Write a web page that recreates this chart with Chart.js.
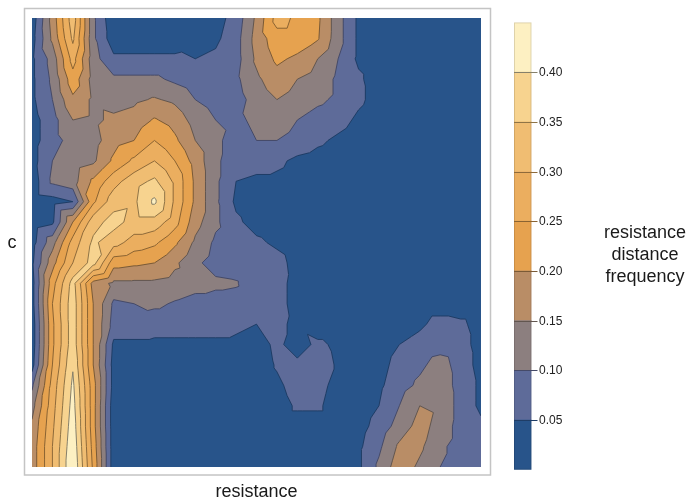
<!DOCTYPE html>
<html><head><meta charset="utf-8">
<script src="https://cdn.jsdelivr.net/npm/chart.js@4.4.1/dist/chart.umd.min.js"></script>
<style>
html,body{margin:0;padding:0;background:#fff;}
#wrap{position:relative;width:690px;height:500px;}
#main{position:absolute;left:0;top:0;}
#bar{position:absolute;left:490px;top:0;}
</style></head><body>
<div id="wrap"><canvas id="main" width="690" height="500"></canvas><canvas id="bar" width="200" height="500"></canvas></div>
<script>
// grid positions (no tick labels in the original, so plain steps)
const resistanceSteps = [0,1,2,3,4,5,6,7,8,9,10,11,12,13,14,15,16,17,18,19,20,21,22];
const cSteps = [0,1,2,3,4,5,6,7,8,9,10,11,12,13,14,15,16,17,18,19,20,21,22]; // top row first
// resistance distance frequency, in hundredths, rows follow cSteps (top to bottom)
const frequencyGrid = [
 [2,17,33,11,1,1,1,1,2,3,7,16,27,24,21,12,4,2,2,2,2,2,2],
 [3,16,31,11,2,2,2,2,3,4,8,17,23,23,20.5,12,4,2,2,2,2,2,2],
 [4,12,27,12,6,6,6,6,5,6,8,16,21,19,15,10,4,2,2,2,2,2,2],
 [4,11,23,13,11,11,11,9,7,7,9,14,18,15,13,9,6,2,2,2,2,2,2],
 [4,10,19,14,13,14,15.5,14,10,8,8,12,15,13,11,9,6,3,2,2,2,2,2],
 [3,8,15,14,16,17,20.5,18,13,10,9,11,13,10,8,7,4,2,2,2,2,2,2],
 [3,8,12,13,18,20,25,21,15,11,8,10,10,8,6,4,2,2,2,2,2,2,2],
 [3,10,12,14,21,26,30,25,18,11,7,7,6,4,3,2,2,2,2,2,2,2,2],
 [2,11,13,21,28,33,36,29,19,11,5,4,4,3,2,2,2,2,2,2,2,2,2],
 [2,3,5,24,33,34,41,29,19,11,4,2,2,2,2,2,2,2,2,2,2,2,2],
 [2,4,20,33,37,33,33,27,17,11,6,3,2,2,2,2,2,2,2,2,2,2,2],
 [3,13,27,36,32,28,26,21,14,9,7,6,4,2,2,2,2,2,2,2,2,2,2],
 [4,18,30,37,22,21,20,16,11,8,7,6,7,3,2,2,2,2,2,2,2,2,2],
 [3,23,37,18,14,14,14,13,12,11,10.5,6,6.5,3.5,2,2,2,2,2,2,2,2,2],
 [3,25,38,20,9,10,11,9.5,8,8,8,7,6.5,3.5,2,2,2,2,2,2,2,2,2],
 [2,24,38,20,8,8,7,7,7,7,6,5,6,4,2,2,2,2,2,4,7,6,3],
 [2,24,38,20,4,4,4,4,4,4,4,3,6,3,6,4,2,2,5,7,8,7,3],
 [3,25,39.5,20,3,2,2,2,2,2,2,2,5.5,6,7,4.5,2,3,7,9,12,8,3],
 [9,27,41,22,3,2,2,2,2,2,2,2,4,7,7,3,2,4,8,11,13,8,4],
 [13,28,42,22,2,2,2,2,2,2,2,2,2,6,6,2,2,5,10,15,14,8,4],
 [16,29,43,22,2,2,2,2,2,2,2,2,2,2,2,2,3,7,12,17,13,8,6],
 [17,30,44,23,2,2,2,2,2,2,2,2,2,2,2,2,4,9,16,16,11,8,7],
 [17,30,45,24,2,2,2,2,2,2,2,2,2,2,2,2,4,11,18,14,10,8,7]
];
const contourLevels = [0.05,0.10,0.15,0.20,0.25,0.30,0.35,0.40];
const levelLabels = ['0.05','0.10','0.15','0.20','0.25','0.30','0.35','0.40'];
const colorbarRange = [0, 0.45];
const bandColors = ['#28548a','#5e6b99','#8c7f7f','#b98d66','#e6a24f','#ebae5f','#f0bd72','#f7d38f','#fdf0c2'];
const lineColors = ['#1f3d66','#454a68','#62564f','#7a5a36','#8a6332','#8e6a3a','#8f7446','#86806a'];
const FONT = '"Liberation Sans", Arial, Helvetica, sans-serif';

function hexToRgb(h){ return [parseInt(h.slice(1,3),16),parseInt(h.slice(3,5),16),parseInt(h.slice(5,7),16)]; }
const G = frequencyGrid.map(r => r.map(v => v/100));
const nCols = resistanceSteps.length, nRows = cSteps.length;
// split each cell along the diagonal with the larger mean (keeps ridges connected)
function mainDiag(i, j){ return (G[j][i] + G[j+1][i+1]) >= (G[j][i+1] + G[j+1][i]); }

function sample(gx, gy){
  let i = Math.floor(gx), j = Math.floor(gy);
  if (i < 0) i = 0; if (i > nCols-2) i = nCols-2;
  if (j < 0) j = 0; if (j > nRows-2) j = nRows-2;
  let fx = Math.min(1, Math.max(0, gx - i)), fy = Math.min(1, Math.max(0, gy - j));
  const v00 = G[j][i], v10 = G[j][i+1], v01 = G[j+1][i], v11 = G[j+1][i+1];
  if (mainDiag(i, j)){
    if (fx >= fy) return v00 + fx*(v10 - v00) + fy*(v11 - v10);
    return v00 + fy*(v01 - v00) + fx*(v11 - v01);
  }
  if (fx + fy <= 1) return v00 + fx*(v10 - v00) + fy*(v01 - v00);
  return v11 + (1-fx)*(v01 - v11) + (1-fy)*(v10 - v11);
}

const contourPlugin = {
  id: 'contour',
  beforeDraw(chart){
    const ctx = chart.ctx;
    ctx.save();
    ctx.fillStyle = '#fff';
    ctx.fillRect(0,0,chart.width,chart.height);
    ctx.strokeStyle = '#c4c4c4';
    ctx.lineWidth = 1.5;
    ctx.strokeRect(24.5, 8.5, 466, 466.5);
    ctx.restore();
  },
  beforeDatasetsDraw(chart){
    const ctx = chart.ctx, xs = chart.scales.x, ys = chart.scales.y, a = chart.chartArea;
    const w = Math.round(a.right - a.left), h = Math.round(a.bottom - a.top);
    const off = document.createElement('canvas'); off.width = w; off.height = h;
    const octx = off.getContext('2d');
    const img = octx.createImageData(w, h);
    const rgb = bandColors.map(hexToRgb);
    const gxs = [];
    for (let px = 0; px < w; px++) gxs.push(xs.getValueForPixel(a.left + px + 0.5));
    for (let py = 0; py < h; py++){
      const gy = ys.getValueForPixel(a.top + py + 0.5);
      for (let px = 0; px < w; px++){
        const v = sample(gxs[px], gy);
        let b = 0; while (b < contourLevels.length && v >= contourLevels[b]) b++;
        const c = rgb[b], k = (py*w + px)*4;
        img.data[k] = c[0]; img.data[k+1] = c[1]; img.data[k+2] = c[2]; img.data[k+3] = 255;
      }
    }
    octx.putImageData(img, 0, 0);
    ctx.drawImage(off, a.left, a.top);

    ctx.save();
    ctx.beginPath(); ctx.rect(a.left, a.top, w, h); ctx.clip();
    ctx.lineWidth = 1; ctx.lineJoin = 'round';
    contourLevels.forEach((L, li) => {
      ctx.beginPath();
      const tri = (p, q, r) => {
        const pts = [];
        [[p,q],[q,r],[r,p]].forEach(([m,n]) => {
          const A = m.v >= L, B = n.v >= L;
          if (A !== B){ const t = (L - m.v)/(n.v - m.v); pts.push([m.x + t*(n.x - m.x), m.y + t*(n.y - m.y)]); }
        });
        if (pts.length === 2){
          ctx.moveTo(xs.getPixelForValue(pts[0][0]), ys.getPixelForValue(pts[0][1]));
          ctx.lineTo(xs.getPixelForValue(pts[1][0]), ys.getPixelForValue(pts[1][1]));
        }
      };
      for (let j = 0; j < nRows-1; j++){
        for (let i = 0; i < nCols-1; i++){
          const p00 = {x:resistanceSteps[i], y:cSteps[j], v:G[j][i]};
          const p10 = {x:resistanceSteps[i+1], y:cSteps[j], v:G[j][i+1]};
          const p01 = {x:resistanceSteps[i], y:cSteps[j+1], v:G[j+1][i]};
          const p11 = {x:resistanceSteps[i+1], y:cSteps[j+1], v:G[j+1][i+1]};
          if (mainDiag(i, j)){ tri(p00, p10, p11); tri(p00, p01, p11); }
          else { tri(p00, p10, p01); tri(p10, p11, p01); }
        }
      }
      ctx.strokeStyle = lineColors[li];
      ctx.stroke();
    });
    ctx.restore();
  },
  afterDraw(chart){
    const ctx = chart.ctx, a = chart.chartArea;
    ctx.save();
    ctx.fillStyle = '#1a1a1a';
    ctx.font = '18px ' + FONT;
    ctx.textAlign = 'center';
    ctx.textBaseline = 'alphabetic';
    ctx.fillText('resistance', (a.left + a.right)/2, 497);
    ctx.fillText('c', 12, 248);
    ctx.restore();
  }
};

new Chart(document.getElementById('main'), {
  type: 'scatter',
  data: { datasets: [{ data: [] }] },
  options: {
    responsive: false, animation: false,
    layout: { padding: { left: 32, top: 18, right: 209, bottom: 33 } },
    plugins: { legend: { display: false }, tooltip: { enabled: false } },
    scales: {
      x: { type: 'linear', min: resistanceSteps[0], max: resistanceSteps[nCols-1], display: false },
      y: { type: 'linear', min: cSteps[0], max: cSteps[nRows-1], reverse: true, display: false }
    }
  },
  plugins: [contourPlugin]
});

const bandEdges = [colorbarRange[0], ...contourLevels, colorbarRange[1]];
const colorbarPlugin = {
  id: 'colorbar',
  afterDatasetsDraw(chart){
    const ctx = chart.ctx, ys = chart.scales.y, a = chart.chartArea;
    ctx.save();
    ctx.strokeStyle = 'rgba(0,0,0,0.12)'; ctx.lineWidth = 1;
    ctx.strokeRect(a.left + 0.5, a.top + 0.5, a.right - a.left - 1, a.bottom - a.top - 1);
    contourLevels.forEach((L, li) => {
      const y = Math.round(ys.getPixelForValue(L)) + 0.5;
      ctx.strokeStyle = lineColors[li]; ctx.lineWidth = 1;
      ctx.beginPath(); ctx.moveTo(a.left, y); ctx.lineTo(a.right + 6, y); ctx.stroke();
      ctx.fillStyle = '#222'; ctx.font = '12px ' + FONT;
      ctx.textAlign = 'left'; ctx.textBaseline = 'middle';
      ctx.fillText(levelLabels[li], a.right + 7.5, y);
    });
    ctx.fillStyle = '#1a1a1a'; ctx.font = '18px ' + FONT; ctx.textAlign = 'center'; ctx.textBaseline = 'alphabetic';
    ctx.fillText('resistance', 155, 238);
    ctx.fillText('distance', 155, 260);
    ctx.fillText('frequency', 155, 282);
    ctx.restore();
  }
};

new Chart(document.getElementById('bar'), {
  type: 'bar',
  data: {
    labels: ['frequency'],
    datasets: bandColors.map((c, i) => ({
      data: [[bandEdges[i], bandEdges[i+1]]],
      backgroundColor: c, borderWidth: 0, grouped: false,
      barPercentage: 1, categoryPercentage: 1
    }))
  },
  options: {
    responsive: false, animation: false,
    layout: { padding: { left: 24, right: 158.5, top: 22.4, bottom: 30.3 } },
    plugins: { legend: { display: false }, tooltip: { enabled: false } },
    scales: {
      x: { display: false },
      y: { display: false, min: colorbarRange[0], max: colorbarRange[1] }
    }
  },
  plugins: [colorbarPlugin]
});
</script>
</body></html>
